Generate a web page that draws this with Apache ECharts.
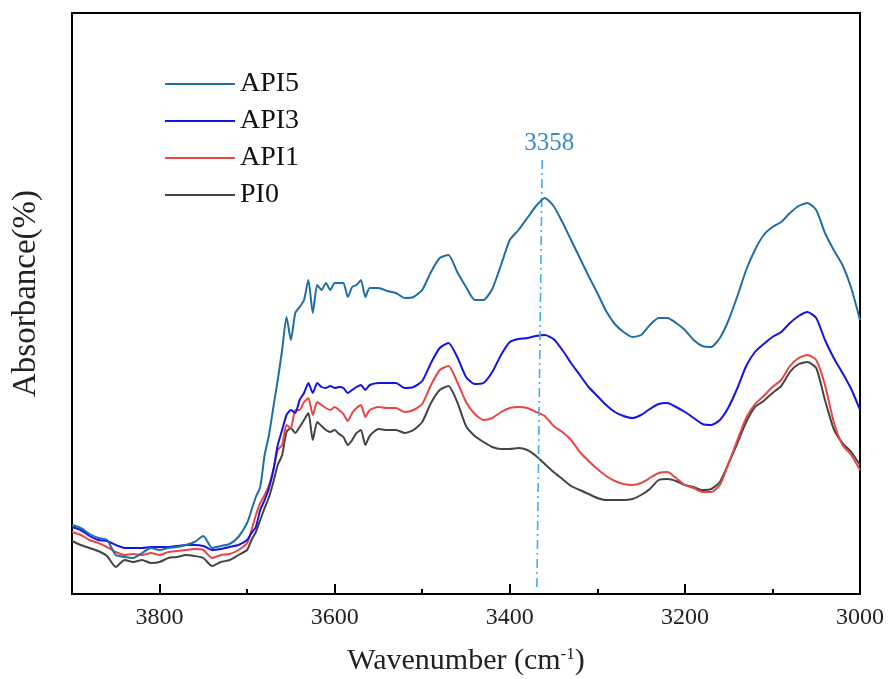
<!DOCTYPE html>
<html>
<head>
<meta charset="utf-8">
<script src="https://cdn.jsdelivr.net/npm/echarts@6/dist/echarts.min.js"></script>
<style>html,body{margin:0;padding:0;background:#fff}#c{width:888px;height:679px}</style>
</head>
<body>
<div id="c"></div>
<script>
const wavenumbers = [3900,3890,3880,3870,3860,3850,3840,3830,3820,3810,3800,3790,3780,3770,3760,3750,3740,3730,3720,3710,
  3700,3695,3690,3685,3680,3675,3670,3665,3660,3655,3650,3645,3640,3635,3630,3625,3620,3615,3610,3605,3600,3595,3590,3585,3580,3575,3570,3565,3560,
  3550,3540,3530,3520,3510,3500,3490,3480,3470,3460,3450,3440,3430,3420,3410,3400,3390,3380,3370,3360,3350,3340,3330,3320,3310,3300,3290,3280,3270,3260,3250,3240,3230,3220,3210,3200,3190,3180,3170,3160,3150,3140,3130,3120,3110,3100,3090,3080,3070,3060,3050,3040,3030,3020,3010,3000];
const api5 = [69,66,60,56,54,39,37,36,41,46,44,46,47,49,52,58,46,48,50,57,
  71,84,97,107,139,159,187,214,244,277,254,281,287,294,314,281,309,304,311,304,311,311,311,297,307,309,314,297,306,
  306,303,301,296,297,304,322,336,339,322,307,294,294,305,329,354,364,376,388,396,388,372,354,336,318,301,283,270,262,257,259,269,276,276,271,264,254,248,247,256,274,298,324,344,359,367,372,381,388,391,384,361,344,329,306,274];
const api3 = [67,64,58,54,53,49,46,46,46,47,47,47,48,49,49,48,44,45,47,49,
  54,61,67,84,94,106,124,149,164,179,184,181,194,201,211,201,211,207,206,208,206,207,206,201,204,207,209,204,209,
  211,211,211,206,207,213,231,246,251,237,217,210,211,222,239,252,255,256,258,259,255,244,231,219,207,198,189,182,178,176,179,185,190,191,187,182,176,170,169,174,187,206,228,242,250,257,262,271,278,282,276,254,236,221,205,184];
const api1 = [62,59,54,51,47,42,39,40,39,41,39,42,43,44,45,44,36,39,40,44,
  51,64,79,91,99,109,124,144,149,169,166,184,184,192,196,179,192,189,186,184,187,184,180,173,181,186,189,177,184,
  187,186,186,182,184,190,209,224,228,212,192,180,174,176,182,186,187,186,182,178,168,162,154,142,133,125,118,113,110,109,111,116,121,122,116,109,106,102,102,109,131,154,176,190,198,207,214,228,236,239,234,209,172,149,139,124];
const pi0 = [53,49,46,43,38,27,34,32,34,31,32,36,37,39,38,36,28,32,34,39,
  44,54,62,74,86,97,112,129,139,162,166,161,167,174,181,154,172,168,164,162,164,160,157,149,154,161,164,149,158,
  165,164,164,161,164,172,191,204,208,192,168,158,152,147,145,145,146,144,138,130,122,115,108,104,100,96,94,94,94,95,99,105,114,115,113,109,107,104,105,112,131,151,172,187,193,201,208,222,230,232,226,194,165,151,142,129];
const seriesNames = ['API5','API3','API1','PI0'];
const seriesColors = ['#1f6fa6','#1414e0','#e84545','#444444'];
const majorTickInterval = 200;
const minorTickInterval = 100;
const peakLabel = '3358';
const peakLine = [[3363,434],[3369,6]];

const FONT = '"Liberation Serif","Times New Roman",serif';
const chart = echarts.init(document.getElementById('c'), null, {renderer:'canvas'});
const allData = [api5, api3, api1, pi0];
const series = allData.map((vals, i) => ({
  name: seriesNames[i],
  type: 'line',
  xAxisIndex: 0,
  yAxisIndex: 0,
  symbol: 'none',
  smooth: 0.2,
  data: vals.map((v, k) => [wavenumbers[k], v]),
  lineStyle: {color: seriesColors[i], width: 2},
  itemStyle: {color: seriesColors[i]},
  z: 5 - i,
  animation: false
}));
series[0].markLine = {
  silent: true,
  symbol: ['none','none'],
  animation: false,
  lineStyle: {color: '#3fb0ec', width: 1.6, type: [9,4,2,4]},
  label: {show: true, position: 'start', formatter: peakLabel, distance: 6, offset: [7, 2],
          fontFamily: FONT, fontSize: 25, color: '#3a8cc4'},
  data: [[{coord: peakLine[0]}, {coord: peakLine[1]}]]
};

chart.setOption({
  backgroundColor: '#fff',
  animation: false,
  grid: {left: 72, right: 28, top: 13, bottom: 85, outerBoundsMode: 'none', containLabel: false,
         show: true, borderColor: '#000', borderWidth: 2, backgroundColor: 'transparent'},
  legend: {
    orient: 'vertical', left: 160, top: 65,
    data: seriesNames,
    itemWidth: 70, itemHeight: 24, itemGap: 9,
    textStyle: {fontFamily: FONT, fontSize: 28, color: '#111'},
    icon: 'path://M0,11 L70,11 L70,13 L0,13 Z'
  },
  xAxis: [{
    type: 'value', min: 3000, max: 3900, interval: majorTickInterval, inverse: true,
    axisLine: {show: true, lineStyle: {color: '#000', width: 2}},
    axisTick: {show: true, inside: true, length: 10, lineStyle: {color: '#000', width: 2}},
    axisLabel: {fontFamily: FONT, fontSize: 24, color: '#222', margin: 12, showMaxLabel: false,
      formatter: v => (v % majorTickInterval === 0 ? String(v) : '')},
    splitLine: {show: false},
    name: 'Wavenumber (cm{sup|-1})', nameLocation: 'middle', nameGap: 52,
    nameTextStyle: {fontFamily: FONT, fontSize: 30, color: '#222',
      rich: {sup: {fontFamily: FONT, fontSize: 17, color: '#222', verticalAlign: 'top', padding: [0,0,12,0]}}}
  }, {
    type: 'value', min: 3000, max: 3900, interval: minorTickInterval, inverse: true, position: 'bottom',
    axisLine: {show: false},
    axisTick: {show: true, inside: true, length: 5, lineStyle: {color: '#000', width: 2}},
    axisLabel: {show: false}, splitLine: {show: false}
  }],
  yAxis: {
    type: 'value', min: 0, max: 581,
    axisLine: {show: true, lineStyle: {color: '#000', width: 2}},
    axisTick: {show: false}, axisLabel: {show: false}, splitLine: {show: false},
    name: 'Absorbance(%)', nameLocation: 'middle', nameGap: 29, nameRotate: 90,
    nameTextStyle: {fontFamily: FONT, fontSize: 33, color: '#222', padding: [0, 0, 0, 20]}
  },
  series: series
});
</script>
</body>
</html>
